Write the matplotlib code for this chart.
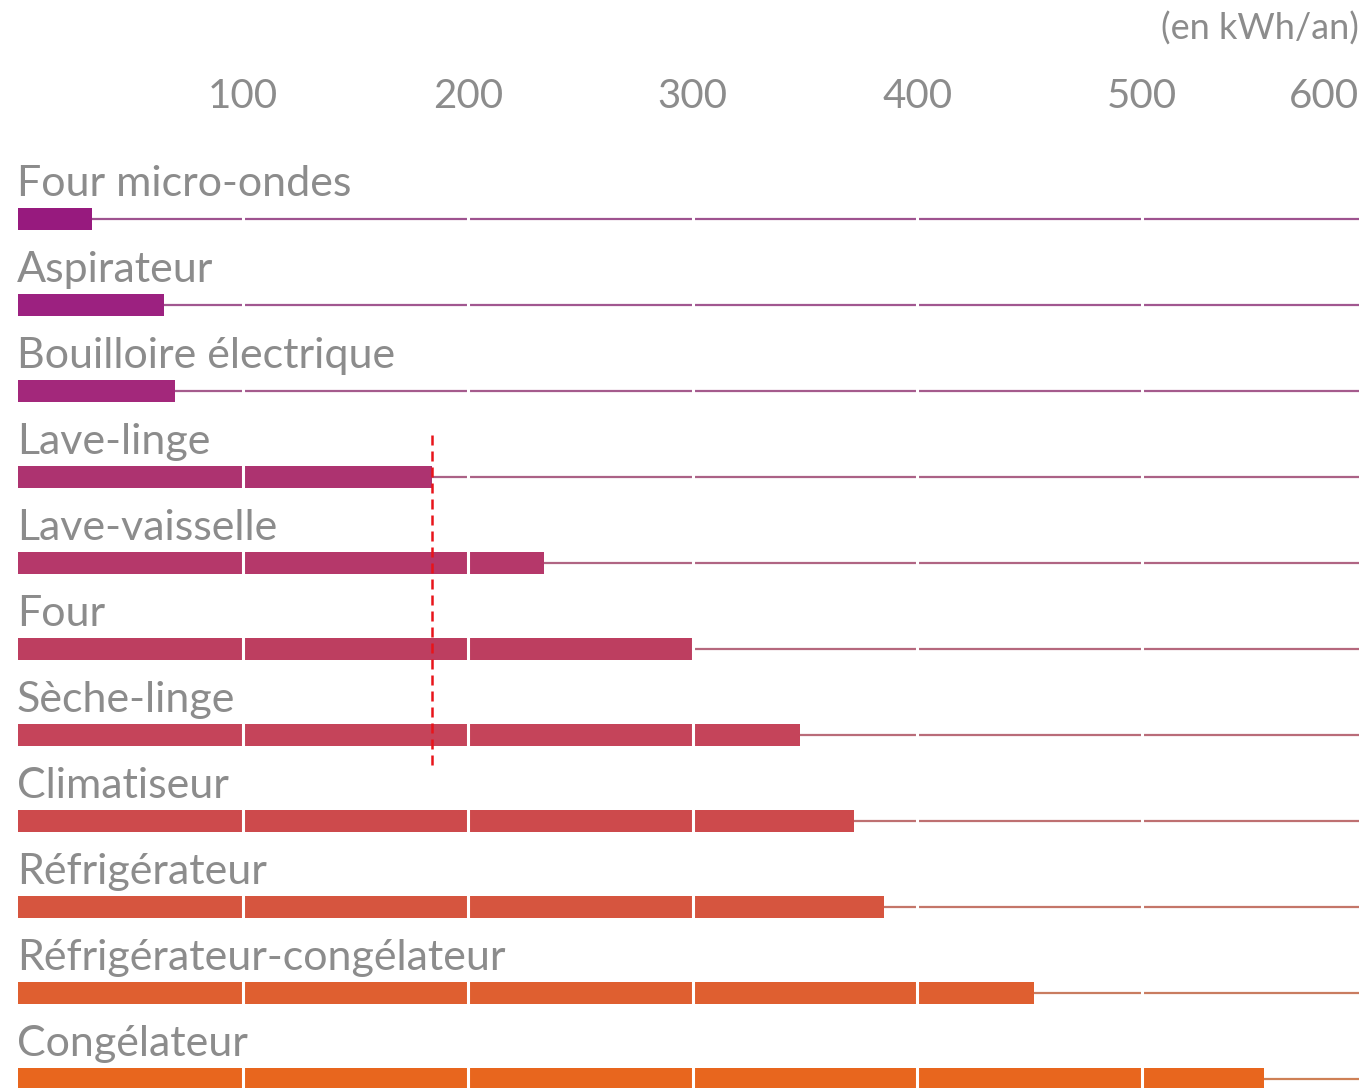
import matplotlib
matplotlib.use("Agg")
import matplotlib.pyplot as plt
import matplotlib.colors as mcolors
import numpy as np

# ---- data ----
appliances = ["Four micro-ondes", "Aspirateur", "Bouilloire électrique", "Lave-linge",
              "Lave-vaisselle", "Four", "Sèche-linge", "Climatiseur", "Réfrigérateur",
              "Réfrigérateur-congélateur", "Congélateur"]
consumption = [33, 65, 70, 184, 234, 300, 348, 372, 385, 452, 554]
tick_values = [100, 200, 300, 400, 500, 600]
tick_labels = ["100", "200", "300", "400", "500", "600"]
reference_value = 184
unit_label = "(en kWh/an)"

bar_colors = ["#971a7e", "#9c2180", "#a3287b", "#ad3370", "#b5386a", "#bd3e60",
              "#c5445a", "#cd4a4c", "#d6553f", "#df5f30", "#e8661e"]

plt.rcParams['font.family'] = ['Lato', 'DejaVu Sans']
text_color = "#8c8c8c"

fig = plt.figure(figsize=(13.59, 10.88), dpi=100)
ax = fig.add_axes([0, 0, 1, 1])
ax.set_xlim(-8.0, 596.4)
ax.set_ylim(10.105, -2.547)
ax.axis("off")

n = len(appliances)
gray = np.array(mcolors.to_rgb("#a8a8a8"))

for i, (name, val, col) in enumerate(zip(appliances, consumption, bar_colors)):
    c = np.array(mcolors.to_rgb(col))
    line_col = 0.6 * c + 0.4 * gray
    ax.plot([val, 596.4], [i, i], color=line_col, lw=1.6, solid_capstyle="butt", zorder=1)
    ax.barh(i, val, height=0.256, left=0, color=col, zorder=2)
    ax.text(-0.5, i - 0.27, name, color=text_color, fontsize=31, ha="left",
            va="baseline", zorder=6)

# white separators at every 100
for t in tick_values[:-1]:
    ax.plot([t, t], [-0.6, n + 1], color="white", lw=2.2, zorder=3)

# reference dashed line
ax.plot([reference_value, reference_value], [2.51, 6.35], color="#e8141a", lw=1.8,
        ls=(0, (4, 2.4)), zorder=4)

# tick labels
for t, lab in zip(tick_values, tick_labels):
    if t >= 596:
        ax.text(596.4, -1.43, lab, color=text_color, fontsize=29, ha="right", va="center")
    else:
        ax.text(t, -1.43, lab, color=text_color, fontsize=29, ha="center", va="center")

ax.text(596.4, -2.22, unit_label, color=text_color, fontsize=26, ha="right", va="center")

fig.savefig("out.png", dpi=100, facecolor="white")
